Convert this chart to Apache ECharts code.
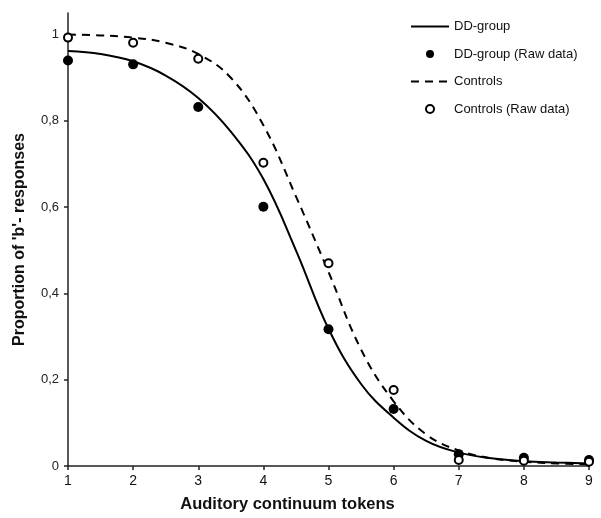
<!DOCTYPE html>
<html>

<head>
    <meta charset="utf-8">
    <title>identification curves</title>
    <script src="https://cdn.jsdelivr.net/npm/echarts@6/dist/echarts.min.js"></script>
</head>

<body style="margin:0">
    <div id="main" style="height: 518px; width: 601px;"></div>
    <script type="text/javascript">
    // raw data per token
    var tokens = [1, 2, 3, 4, 5, 6, 7, 8, 9];
    var ddRaw = [0.940, 0.931, 0.832, 0.601, 0.317, 0.132, 0.027, 0.019, 0.014];
    var ctrlRaw = [0.993, 0.981, 0.944, 0.703, 0.470, 0.176, 0.014, 0.012, 0.010];

    // fitted curves
    var fitX = [1, 1.5, 2, 2.5, 3, 3.5, 4, 4.5, 5, 5.5, 6, 6.5, 7, 7.5, 8, 8.5, 9];
    var ddFit = [0.962, 0.955, 0.938, 0.905, 0.853, 0.775, 0.665, 0.500, 0.318, 0.190, 0.112, 0.058, 0.031, 0.018, 0.011, 0.008, 0.006];
    var ctrlFit = [1.000, 0.998, 0.993, 0.981, 0.955, 0.900, 0.790, 0.625, 0.450, 0.270, 0.150, 0.073, 0.036, 0.018, 0.010, 0.006, 0.004];

    var yTicks = [0, 0.2, 0.4, 0.6, 0.8, 1];

    function pairs(xs, ys) {
        return xs.map(function(x, i) { return [x, ys[i]]; });
    }

    var myChart = echarts.init(document.getElementById('main'));
    var font = 'Liberation Sans, Arial, sans-serif';
    var option = {
        animation: false,
        textStyle: { fontFamily: font },
        legend: {
            orient: 'vertical',
            left: 405,
            top: 15,
            itemWidth: 38,
            itemHeight: 8,
            itemGap: 14.5,
            textStyle: { fontSize: 13, color: '#111', fontFamily: font },
            data: [
                { name: 'DD-group', itemStyle: { opacity: 0 } },
                'DD-group (Raw data)',
                { name: 'Controls', itemStyle: { opacity: 0 } },
                'Controls (Raw data)'
            ]
        },
        grid: {
            left: 68,
            right: 12,
            top: 13,
            bottom: 46
        },
        xAxis: {
            type: 'value',
            min: 1,
            max: 9,
            interval: 1,
            name: 'Auditory continuum tokens',
            nameLocation: 'middle',
            nameGap: 30,
            nameTextStyle: { fontSize: 16.5, fontWeight: 'bold', color: '#111', padding: [0, 82, 0, 0] },
            splitLine: { show: false },
            axisLine: { lineStyle: { color: '#222', width: 1.5 } },
            axisTick: { length: 4, lineStyle: { color: '#222', width: 1.5 } },
            axisLabel: { fontSize: 14, color: '#111', margin: 8 }
        },
        yAxis: {
            type: 'value',
            min: 0,
            max: 1.05,
            name: "Proportion of 'b'- responses",
            nameLocation: 'middle',
            nameGap: 40,
            nameTextStyle: { fontSize: 16, fontWeight: 'bold', color: '#111' },
            splitLine: { show: false },
            axisLine: { show: true, lineStyle: { color: '#222', width: 1.5 } },
            axisTick: { show: true, length: 4, customValues: yTicks, lineStyle: { color: '#222', width: 1.5 } },
            axisLabel: {
                fontSize: 13,
                color: '#222',
                margin: 9,
                customValues: yTicks,
                formatter: function(v) { return String(Math.round(v * 10) / 10).replace('.', ','); }
            }
        },
        series: [{
            name: 'DD-group',
            type: 'line',
            data: pairs(fitX, ddFit),
            smooth: 0.4,
            symbol: 'none',
            color: '#000',
            lineStyle: { color: '#000', width: 2 },
            z: 2
        }, {
            name: 'DD-group (Raw data)',
            type: 'scatter',
            data: pairs(tokens, ddRaw),
            symbol: 'circle',
            symbolSize: 10,
            itemStyle: { color: '#000', opacity: 1 },
            z: 3
        }, {
            name: 'Controls',
            type: 'line',
            data: pairs(fitX, ctrlFit),
            smooth: 0.4,
            symbol: 'none',
            color: '#000',
            lineStyle: { color: '#000', width: 2, type: [8, 6] },
            z: 2
        }, {
            name: 'Controls (Raw data)',
            type: 'scatter',
            data: pairs(tokens, ctrlRaw),
            symbol: 'circle',
            symbolSize: 8,
            itemStyle: { color: '#fff', borderColor: '#000', borderWidth: 2, opacity: 1 },
            z: 4
        }]
    };
    myChart.setOption(option);
    </script>
</body>

</html>
